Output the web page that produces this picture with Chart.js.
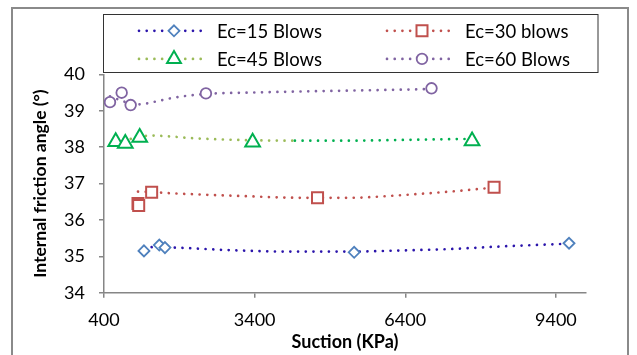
<!DOCTYPE html>
<html><head><meta charset="utf-8">
<script src="https://cdn.jsdelivr.net/npm/chart.js@4.4.1/dist/chart.umd.min.js"></script>
<style>html,body{margin:0;padding:0;background:#fff;}#wrap{width:637px;height:355px;}</style>
</head><body><div id="wrap"><canvas id="c" width="637" height="355"></canvas></div>
<script>
// ---- data ----
const xTicks = [400, 3400, 6400, 9400];
const seriesNames = ['Ec=15 Blows', 'Ec=30 blows', 'Ec=45 Blows', 'Ec=60 Blows'];

const s15x = [1196, 1501, 1614, 5382, 9662];
const s15y = [35.15, 35.31, 35.24, 35.11, 35.36];
const s30x = [1077, 1091, 1349, 4653, 8169];
const s30y = [36.45, 36.40, 36.76, 36.61, 36.90];
const s45x = [633, 824, 1111, 3360, 7731];
const s45y = [38.15, 38.10, 38.27, 38.14, 38.17];
const s60x = [519, 752, 931, 2430, 6923];
const s60y = [39.24, 39.50, 39.16, 39.48, 39.62];

// trendlines
const t15x = [1196, 1375, 1813, 2908, 4102, 5297, 6292, 7287, 8282, 9662];
const t15y = [35.27, 35.25, 35.24, 35.17, 35.13, 35.13, 35.16, 35.20, 35.27, 35.35];
const t30x = [1077, 1349, 1549, 2311, 3306, 4301, 5297, 6292, 7287, 8169];
const t30y = [36.78, 36.77, 36.75, 36.70, 36.65, 36.61, 36.61, 36.68, 36.78, 36.89];
const t45x = [633, 904, 1150, 1375, 2152, 3067, 4202, 5297, 6292, 7731];
const t45y = [38.14, 38.22, 38.30, 38.32, 38.25, 38.20, 38.18, 38.18, 38.20, 38.23];
const t60x = [519, 752, 931, 1100, 1408, 1706, 2138, 2620, 3217, 4212, 5406, 6600, 6923];
const t60y = [39.40, 39.28, 39.20, 39.18, 39.25, 39.34, 39.43, 39.48, 39.50, 39.53, 39.56, 39.59, 39.60];

const zip = (xs, ys) => xs.map((x, i) => ({x, y: ys[i]}));

const C15line = '#2B15AB', C15mark = '#4F81BD';
const C30 = '#C0504D';
const C45light = '#9BBB59', C45dark = '#00B050';
const C60 = '#8064A2';
const FONT = 'Lato, "Open Sans", sans-serif';
const DOT = [0.01, 7.7];

function trend(data, color, segColor) {
  const d = {type: 'line', data, borderColor: color, borderWidth: 2.7, borderDash: DOT,
    borderCapStyle: 'round', pointRadius: 0, cubicInterpolationMode: 'monotone', fill: false, order: 2};
  if (segColor) d.segment = {borderColor: segColor};
  return d;
}
function marks(data, color, style, r, bw) {
  return {type: 'scatter', data, showLine: false, pointStyle: style, pointRadius: r,
    pointBorderColor: color, pointBackgroundColor: '#fff', pointBorderWidth: bw, order: 0};
}

const decorPlugin = {
  id: 'decor',
  afterDraw(chart) {
    const ctx = chart.ctx;
    ctx.save();
    // outer frame
    ctx.strokeStyle = '#8a8a8a'; ctx.lineWidth = 2;
    ctx.beginPath();
    ctx.moveTo(12, 355); ctx.lineTo(12, 8); ctx.lineTo(628, 8); ctx.lineTo(628, 355);
    ctx.stroke();
    // legend box
    ctx.fillStyle = '#fff';
    ctx.fillRect(103.5, 14.5, 494.5, 58);
    ctx.strokeStyle = '#333'; ctx.lineWidth = 1;
    ctx.strokeRect(103.5, 14.5, 494.5, 58);
    const items = [
      {name: seriesNames[0], line: C15line, mark: C15mark, shape: 'diamond', x: 139, y: 30.8},
      {name: seriesNames[1], line: C30, mark: C30, shape: 'square', x: 387, y: 30.8},
      {name: seriesNames[2], line: C45light, mark: C45dark, shape: 'triangle', x: 139, y: 58.9},
      {name: seriesNames[3], line: C60, mark: C60, shape: 'circle', x: 387, y: 58.9}
    ];
    items.forEach(it => {
      ctx.strokeStyle = it.line; ctx.lineWidth = 2.7; ctx.lineCap = 'round';
      ctx.setLineDash(DOT);
      ctx.beginPath(); ctx.moveTo(it.x, it.y); ctx.lineTo(it.x + 66, it.y); ctx.stroke();
      ctx.setLineDash([]);
      const mx = it.x + 35, my = it.y;
      ctx.fillStyle = '#fff'; ctx.strokeStyle = it.mark;
      ctx.beginPath();
      if (it.shape === 'diamond') {
        ctx.lineWidth = 1.8; const r = 5.5;
        ctx.moveTo(mx, my - r); ctx.lineTo(mx + r, my); ctx.lineTo(mx, my + r); ctx.lineTo(mx - r, my); ctx.closePath();
      } else if (it.shape === 'square') {
        ctx.lineWidth = 2; const h = 5.5;
        ctx.rect(mx - h, my - h, 2 * h, 2 * h);
      } else if (it.shape === 'triangle') {
        ctx.lineWidth = 2; const r = 8;
        ctx.moveTo(mx, my - r); ctx.lineTo(mx + r * 0.866, my + r * 0.5); ctx.lineTo(mx - r * 0.866, my + r * 0.5); ctx.closePath();
      } else {
        ctx.lineWidth = 1.8; ctx.arc(mx, my, 5.3, 0, Math.PI * 2);
      }
      ctx.fill(); ctx.stroke();
      ctx.fillStyle = '#000'; ctx.font = '18.5px ' + FONT;
      ctx.textAlign = 'left'; ctx.textBaseline = 'middle';
      ctx.fillText(it.name, it.x + 78, it.y + 1);
    });
    ctx.restore();
  }
};

new Chart(document.getElementById('c'), {
  data: {
    datasets: [
      marks(zip(s15x, s15y), C15mark, 'rectRot', 5.5, 1.8),
      marks(zip(s30x, s30y), C30, 'rect', 7.8, 2),
      marks(zip(s45x, s45y), C45dark, 'triangle', 8.5, 2),
      marks(zip(s60x, s60y), C60, 'circle', 5.3, 1.8),
      trend(zip(t15x, t15y), C15line),
      trend(zip(t30x, t30y), C30),
      trend(zip(t45x, t45y), C45light, c => c.p0.parsed.x >= 3360 ? C45dark : C45light),
      trend(zip(t60x, t60y), C60)
    ]
  },
  options: {
    responsive: false, animation: false, devicePixelRatio: 1,
    layout: {padding: {left: 0, right: 51, top: 74.5, bottom: 0}},
    plugins: {legend: {display: false}, tooltip: {enabled: false}},
    scales: {
      x: {
        type: 'linear', min: 400, max: 10000,
        afterBuildTicks: s => { s.ticks = xTicks.map(v => ({value: v})); },
        afterFit: s => { s.height = 62.3; },
        ticks: {color: '#000', font: {family: FONT, size: 18}, padding: 12, maxRotation: 0, autoSkip: false,
          callback: v => String(v)},
        grid: {drawOnChartArea: false, tickLength: 5, color: '#868686', lineWidth: 1.5},
        border: {color: '#868686', width: 1.5},
        title: {display: true, text: 'Suction (KPa)', color: '#000',
          font: {family: FONT, size: 18, weight: 'bold'}, padding: {top: 0, bottom: 2}}
      },
      y: {
        type: 'linear', min: 34, max: 40,
        afterFit: s => { s.width = 104; },
        ticks: {stepSize: 1, color: '#000', font: {family: FONT, size: 18}, padding: 14,
          callback: v => String(v)},
        grid: {drawOnChartArea: false, tickLength: 5, color: '#868686', lineWidth: 1.5},
        border: {color: '#868686', width: 1.5},
        title: {display: true, text: 'Internal friction angle (°)', color: '#000',
          font: {family: FONT, size: 17.5, weight: 'bold'}, padding: {top: 30, bottom: 0}}
      }
    }
  },
  plugins: [decorPlugin]
});
</script></body></html>
